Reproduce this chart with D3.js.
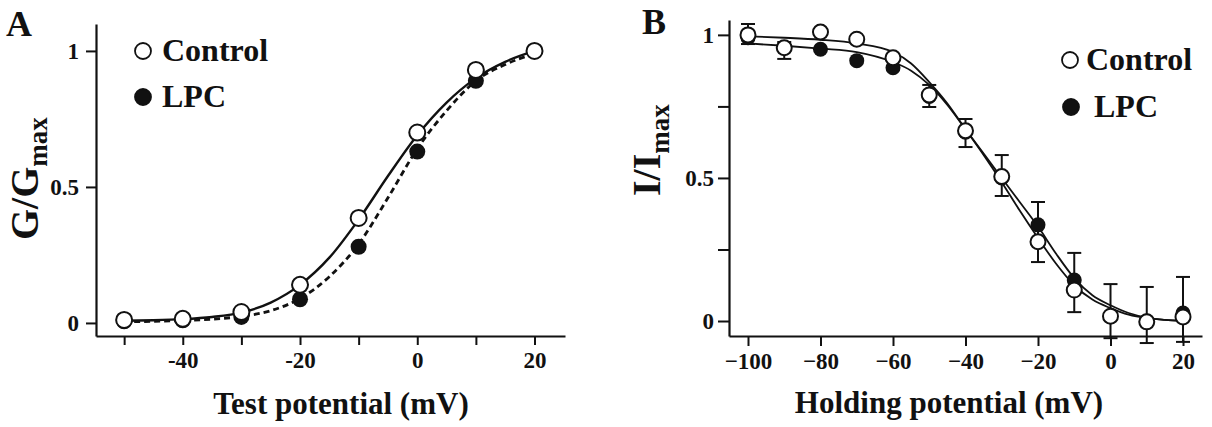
<!DOCTYPE html>
<html>
<head>
<meta charset="utf-8">
<script src="https://cdn.jsdelivr.net/npm/d3@7"></script>
<style>
  body { margin: 0; background: #fff; }
  svg text { font-family: "Liberation Serif", "Times New Roman", serif; font-weight: bold; fill: #111; }
</style>
</head>
<body>
<div class="mainView"></div>
<script>
// panel A: activation (G/Gmax vs test potential)
let voltsA = [-50, -40, -30, -20, -10, 0, 10, 20];
let controlA = [0.011, 0.015, 0.04, 0.14, 0.386, 0.70, 0.93, 1.0];
let lpcA = [0.006, 0.01, 0.022, 0.087, 0.28, 0.63, 0.89, 1.0];
let fitVoltsA = [-50, -45, -40, -35, -30, -25, -20, -15, -10, -5, 0, 5, 10, 15, 20];
let controlFitA = [0.008, 0.01, 0.014, 0.022, 0.038, 0.075, 0.14, 0.24, 0.38, 0.54, 0.69, 0.81, 0.90, 0.96, 1.0];
let lpcFitA = [0.004, 0.006, 0.009, 0.014, 0.024, 0.045, 0.09, 0.17, 0.29, 0.46, 0.64, 0.78, 0.89, 0.95, 0.99];
let xTicksA = [-50, -40, -30, -20, -10, 0, 10, 20];
let xLabelsA = [-40, -20, 0, 20];
let yTicksA = [0, 0.5, 1];

// panel B: inactivation (I/Imax vs holding potential)
let voltsB = [-100, -90, -80, -70, -60, -50, -40, -30, -20, -10, 0, 10, 20];
let controlB = [1.0, 0.955, 1.01, 0.985, 0.92, 0.79, 0.665, 0.505, 0.277, 0.108, 0.017, -0.003, 0.014];
let lpcB = [0.99, 0.955, 0.95, 0.91, 0.885, 0.785, 0.66, 0.50, 0.336, 0.143, 0.015, 0.0, 0.028];
let errHiB = [1.038, 0.975, null, null, null, 0.825, 0.706, 0.58, 0.416, 0.238, 0.129, 0.119, 0.154];
let errLoB = [0.968, 0.916, null, null, null, 0.748, 0.608, 0.437, 0.206, 0.031, -0.06, -0.077, -0.073];
let fitVoltsB = [-100, -90, -80, -70, -60, -55, -50, -45, -40, -35, -30, -25, -20, -15, -10, -5, 0, 5, 10, 15, 20];
let controlFitB = [0.995, 0.99, 0.983, 0.97, 0.94, 0.90, 0.835, 0.76, 0.67, 0.58, 0.485, 0.385, 0.29, 0.20, 0.125, 0.075, 0.045, 0.022, 0.01, 0.004, 0.0];
let lpcFitB = [0.97, 0.962, 0.952, 0.94, 0.905, 0.875, 0.825, 0.755, 0.67, 0.585, 0.50, 0.415, 0.33, 0.235, 0.15, 0.09, 0.055, 0.028, 0.012, 0.004, 0.0];
let xTicksB = [-100, -80, -60, -40, -20, 0, 20];
let yTicksB = [0, 0.25, 0.5, 0.75, 1];
let yLabelsB = [0, 0.5, 1];

let ink = "#111";

let svg = d3.select(".mainView")
    .append("svg")
    .attr("width", 1212)
    .attr("height", 427);

function styleAxis(g){
    g.select(".domain").attr("stroke", ink).attr("stroke-width", 2.2);
    g.selectAll(".tick line").attr("stroke", ink).attr("stroke-width", 2);
    g.selectAll(".tick text")
        .attr("fill", ink)
        .style("font-family", "'Liberation Serif', serif")
        .style("font-weight", "bold")
        .style("font-size", "23px");
}

function fitLine(x, y){
    return d3.line()
        .x(d => x(d[0]))
        .y(d => y(d[1]))
        .curve(d3.curveMonotoneX);
}

function yTitle(x, y, main, sub){
    let t = svg.append("text")
        .attr("transform", "translate(" + [x, y] + ") rotate(-90)")
        .style("font-size", "40px");
    t.append("tspan").text(main);
    t.append("tspan").text(sub).attr("dy", 9).style("font-size", "27px");
}

function legendItem(cx, cy, filled, label, tx){
    svg.append("circle")
        .attr("cx", cx).attr("cy", cy).attr("r", 8)
        .attr("fill", filled ? ink : "#fff")
        .attr("stroke", ink).attr("stroke-width", 1.8);
    svg.append("text")
        .attr("x", tx).attr("y", cy + 10)
        .style("font-size", "32px")
        .text(label);
}

function drawA(){
    let x = d3.scaleLinear().domain([-54.8, 25.2]).range([96, 565]);
    let y = d3.scaleLinear().domain([-0.048, 1.099]).range([336, 24]);

    svg.append("g")
        .attr("transform", "translate(0,336)")
        .call(d3.axisBottom(x).tickValues(xTicksA).tickSize(9).tickSizeOuter(0).tickPadding(7)
            .tickFormat(d => xLabelsA.includes(d) ? d : ""))
        .call(styleAxis);

    svg.append("g")
        .attr("transform", "translate(96,0)")
        .call(d3.axisLeft(y).tickValues(yTicksA).tickSize(10).tickSizeOuter(0).tickPadding(7)
            .tickFormat(d => d))
        .call(styleAxis);

    svg.append("path")
        .datum(fitVoltsA.map((v, i) => [v, controlFitA[i]]))
        .attr("d", fitLine(x, y))
        .attr("fill", "none").attr("stroke", ink).attr("stroke-width", 2.4);

    svg.append("path")
        .datum(fitVoltsA.map((v, i) => [v, lpcFitA[i]]))
        .attr("d", fitLine(x, y))
        .attr("fill", "none").attr("stroke", ink).attr("stroke-width", 2.8)
        .attr("stroke-dasharray", "6,4");

    svg.append("g").selectAll("circle")
        .data(voltsA.map((v, i) => [v, lpcA[i]]))
        .enter().append("circle")
        .attr("cx", d => x(d[0])).attr("cy", d => y(d[1])).attr("r", 8)
        .attr("fill", ink);

    svg.append("g").selectAll("circle")
        .data(voltsA.map((v, i) => [v, controlA[i]]))
        .enter().append("circle")
        .attr("cx", d => x(d[0])).attr("cy", d => y(d[1])).attr("r", 8)
        .attr("fill", "#fff").attr("stroke", ink).attr("stroke-width", 2);

    svg.append("text").attr("x", 6).attr("y", 36).style("font-size", "36px").text("A");
    yTitle(38, 240, "G/G", "max");

    svg.append("text")
        .attr("x", 341).attr("y", 414)
        .attr("text-anchor", "middle")
        .style("font-size", "31px")
        .text("Test potential (mV)");

    legendItem(143, 51, false, "Control", 162);
    legendItem(143, 97, true, "LPC", 162);
}

function drawB(){
    let x = d3.scaleLinear().domain([-105.24, 25.24]).range([729, 1202]);
    let y = d3.scaleLinear().domain([-0.0524, 1.052]).range([336, 20]);

    svg.append("g")
        .attr("transform", "translate(0,336)")
        .call(d3.axisBottom(x).tickValues(xTicksB).tickSize(10).tickSizeOuter(0).tickPadding(7))
        .call(styleAxis);

    svg.append("g")
        .attr("transform", "translate(729,0)")
        .call(d3.axisLeft(y).tickValues(yTicksB).tickSize(11).tickSizeOuter(0).tickPadding(4)
            .tickFormat(d => yLabelsB.includes(d) ? d : ""))
        .call(styleAxis);

    // error bars
    let bars = voltsB.map((v, i) => [v, errLoB[i], errHiB[i]]).filter(d => d[1] !== null);
    let eb = svg.append("g").attr("stroke", ink).attr("stroke-width", 2);
    bars.forEach(d => {
        eb.append("line").attr("x1", x(d[0])).attr("x2", x(d[0])).attr("y1", y(d[1])).attr("y2", y(d[2]));
        eb.append("line").attr("x1", x(d[0]) - 7).attr("x2", x(d[0]) + 7).attr("y1", y(d[1])).attr("y2", y(d[1]));
        eb.append("line").attr("x1", x(d[0]) - 7).attr("x2", x(d[0]) + 7).attr("y1", y(d[2])).attr("y2", y(d[2]));
    });

    [controlFitB, lpcFitB].forEach(fit => {
        svg.append("path")
            .datum(fitVoltsB.map((v, i) => [v, fit[i]]))
            .attr("d", fitLine(x, y))
            .attr("fill", "none").attr("stroke", ink).attr("stroke-width", 1.8);
    });

    svg.append("g").selectAll("circle")
        .data(voltsB.map((v, i) => [v, lpcB[i]]))
        .enter().append("circle")
        .attr("cx", d => x(d[0])).attr("cy", d => y(d[1])).attr("r", 7.5)
        .attr("fill", ink);

    svg.append("g").selectAll("circle")
        .data(voltsB.map((v, i) => [v, controlB[i]]))
        .enter().append("circle")
        .attr("cx", d => x(d[0])).attr("cy", d => y(d[1])).attr("r", 7.5)
        .attr("fill", "#fff").attr("stroke", ink).attr("stroke-width", 2);

    svg.append("text").attr("x", 642).attr("y", 34).style("font-size", "36px").text("B");
    yTitle(660, 196, "I/I", "max");

    svg.append("text")
        .attr("x", 949).attr("y", 413)
        .attr("text-anchor", "middle")
        .style("font-size", "31px")
        .text("Holding potential (mV)");

    legendItem(1070, 60, false, "Control", 1086);
    legendItem(1071, 107, true, "LPC", 1094);
}

drawA();
drawB();
</script>
</body>
</html>
